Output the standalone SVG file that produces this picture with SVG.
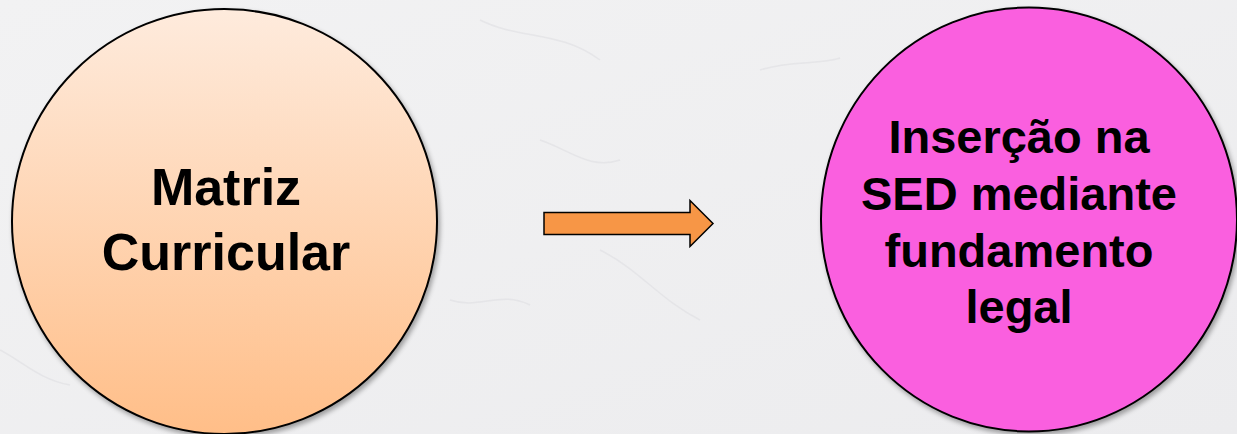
<svg xmlns="http://www.w3.org/2000/svg" width="1237" height="434" viewBox="0 0 1237 434">
  <defs>
    <linearGradient id="peach" x1="0" y1="0" x2="0" y2="1">
      <stop offset="0" stop-color="#FEEBDD"/>
      <stop offset="1" stop-color="#FFBE88"/>
    </linearGradient>
    <linearGradient id="bg" x1="0" y1="0" x2="1" y2="1">
      <stop offset="0" stop-color="#F2F2F3"/>
      <stop offset="1" stop-color="#ECECEE"/>
    </linearGradient>
    <filter id="shadow" x="-10%" y="-10%" width="130%" height="130%">
      <feGaussianBlur in="SourceAlpha" stdDeviation="2.5"/>
      <feOffset dx="2" dy="3" result="b"/>
      <feComponentTransfer><feFuncA type="linear" slope="0.35"/></feComponentTransfer>
      <feMerge><feMergeNode/><feMergeNode in="SourceGraphic"/></feMerge>
    </filter>
    <style>
      .node { stroke: #000; stroke-width: 2; filter: url(#shadow); }
      .label { font-family: "Liberation Sans", Arial, sans-serif; font-weight: bold; fill: #000; text-anchor: middle; }
      .vein { fill: none; stroke: #DCDCE0; stroke-width: 1.5; opacity: 0.5; }
    </style>
  </defs>
  <rect x="0" y="0" width="1237" height="434" fill="url(#bg)"/>
  <g id="background-veins">
    <path class="vein" d="M480 20 C 520 40, 560 30, 600 60"/>
    <path class="vein" d="M540 140 C 570 150, 590 170, 620 160"/>
    <path class="vein" d="M600 250 C 640 270, 660 300, 700 320"/>
    <path class="vein" d="M760 70 C 790 60, 820 65, 840 58"/>
    <path class="vein" d="M450 300 C 480 310, 500 290, 530 305"/>
    <path class="vein" d="M0 350 C 20 360, 40 380, 70 385"/>
  </g>
  <g id="node-matriz">
    <circle class="node" cx="224.5" cy="221.5" r="212.5" fill="url(#peach)"/>
    <text class="label" x="226" y="205" font-size="52">Matriz</text>
    <text class="label" x="226" y="270" font-size="52">Curricular</text>
  </g>
  <g id="connectors">
    <polygon points="544,212.5 690,212.5 690,200.5 713,223.5 690,246.5 690,234.5 544,234.5" fill="#F79646" stroke="#000" stroke-width="1.5"/>
  </g>
  <g id="node-insercao">
    <ellipse class="node" cx="1029" cy="219.5" rx="208" ry="212" fill="#FA5FDF"/>
    <text class="label" x="1019" y="153" font-size="47">Inserção na</text>
    <text class="label" x="1019" y="210" font-size="47">SED mediante</text>
    <text class="label" x="1019" y="267" font-size="47">fundamento</text>
    <text class="label" x="1019" y="323" font-size="47">legal</text>
  </g>
</svg>
